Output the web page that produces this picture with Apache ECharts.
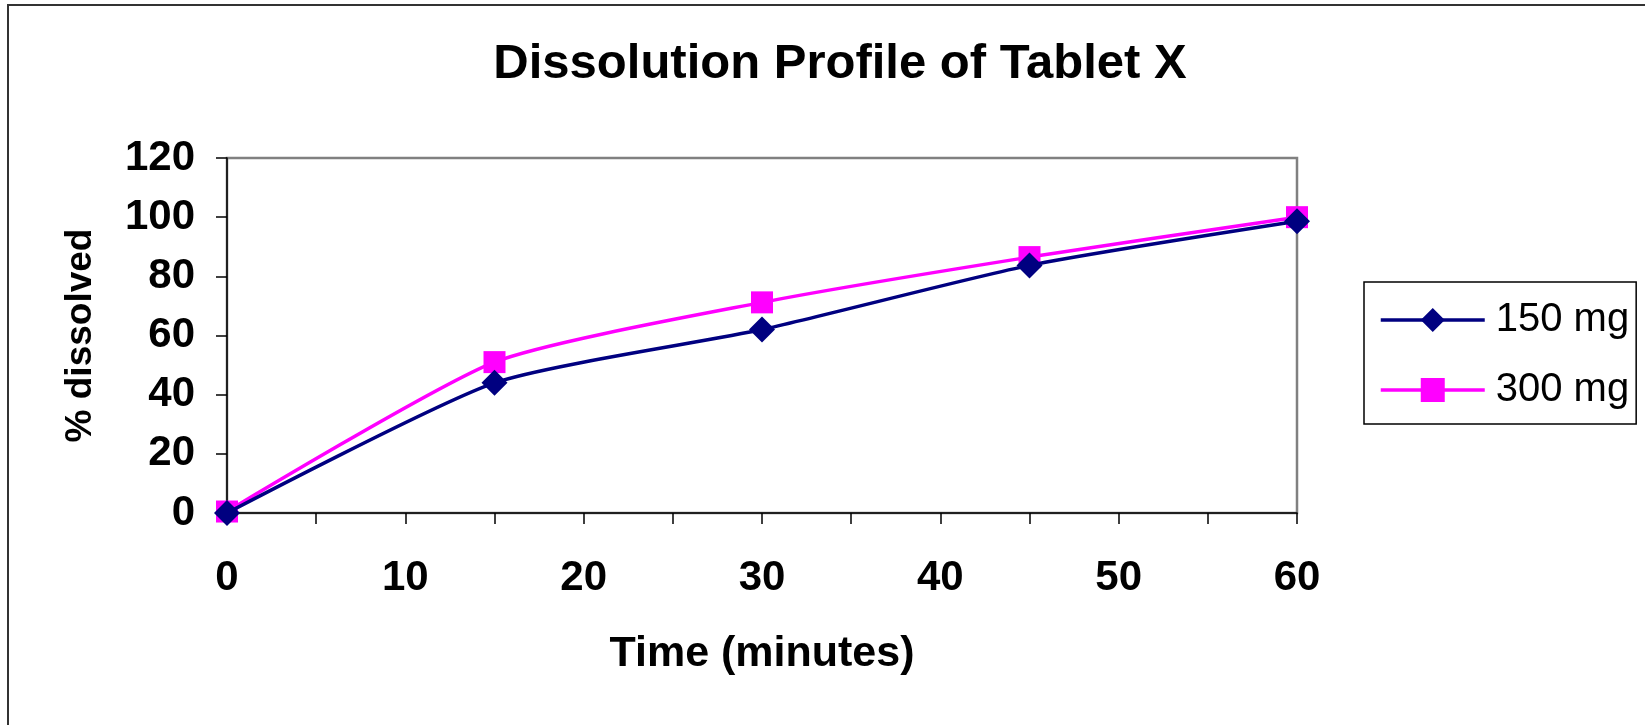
<!DOCTYPE html>
<html>
<head>
<meta charset="utf-8">
<script src="https://cdn.jsdelivr.net/npm/echarts@6/dist/echarts.min.js"></script>
<style>
html,body{margin:0;padding:0;background:#fff;}
#chart{width:1645px;height:725px;}
</style>
</head>
<body>
<div id="chart"></div>
<script>
const titleText = 'Dissolution Profile of Tablet X';
const xName = 'Time (minutes)';
const yName = '% dissolved';
const times = [0, 15, 30, 45, 60];
const series150Name = '150 mg';
const series150 = [0, 44, 62, 83.7, 98.6];
const series300Name = '300 mg';
const series300 = [0.5, 51, 71.2, 86.5, 100];

const FONT = '"Liberation Sans", Arial, sans-serif';
const chart = echarts.init(document.getElementById('chart'));
chart.setOption({
  backgroundColor: '#ffffff',
  animation: false,
  graphic: [{
    type: 'rect', z: -1,
    shape: {x: 8, y: 5, width: 1700, height: 800},
    style: {fill: 'none', stroke: '#333333', lineWidth: 2}
  }],
  title: {
    text: titleText,
    left: 835, top: 35, textAlign: 'center',
    textStyle: {fontFamily: FONT, fontWeight: 'bold', fontSize: 49, color: '#000'}
  },
  legend: {
    orient: 'vertical',
    left: 1364, top: 282,
    padding: [18, 7, 14, 15],
    itemGap: 30,
    itemWidth: 104, itemHeight: 30,
    borderColor: '#000', borderWidth: 1.5,
    lineStyle: {width: 3.5},
    textStyle: {fontFamily: FONT, fontSize: 40, color: '#000', padding: [0, 0, 0, 6], lineHeight: 40},
    data: [series150Name, series300Name]
  },
  grid: {
    left: 227, top: 158, width: 1070, height: 355,
    show: true, borderColor: '#808080', borderWidth: 2.5, backgroundColor: '#fff',
    containLabel: false
  },
  xAxis: {
    type: 'value', min: 0, max: 60, interval: 5,
    name: xName, nameLocation: 'middle', nameGap: 120,
    nameTextStyle: {fontFamily: FONT, fontWeight: 'bold', fontSize: 43, color: '#000'},
    axisLine: {show: true, lineStyle: {color: '#000', width: 1.5}},
    axisTick: {show: true, length: 11, lineStyle: {color: '#000', width: 1.5}},
    axisLabel: {
      margin: 44, fontFamily: FONT, fontWeight: 'bold', fontSize: 42, color: '#000',
      formatter: v => (v % 10 === 0 ? String(v) : '')
    },
    splitLine: {show: false}
  },
  yAxis: {
    type: 'value', min: 0, max: 120, interval: 20,
    name: yName, nameLocation: 'middle', nameGap: 128, nameRotate: 90,
    nameTextStyle: {fontFamily: FONT, fontWeight: 'bold', fontSize: 37, color: '#000'},
    axisLine: {show: true, lineStyle: {color: '#000', width: 1.5}},
    axisTick: {show: true, length: 11, lineStyle: {color: '#000', width: 1.5}},
    axisLabel: {margin: 32, fontFamily: FONT, fontWeight: 'bold', fontSize: 42, color: '#000'},
    splitLine: {show: false}
  },
  series: [
    {
      name: series300Name, type: 'line', z: 2,
      data: times.map((t, i) => [t, series300[i]]),
      smooth: 0.2,
      symbol: 'rect', symbolSize: 22,
      lineStyle: {color: '#FF00FF', width: 3.5},
      itemStyle: {color: '#FF00FF'}
    },
    {
      name: series150Name, type: 'line', z: 3,
      data: times.map((t, i) => [t, series150[i]]),
      smooth: 0.2,
      symbol: 'diamond', symbolSize: 26,
      lineStyle: {color: '#000080', width: 3.5},
      itemStyle: {color: '#000080'}
    }
  ]
});
</script>
</body>
</html>
